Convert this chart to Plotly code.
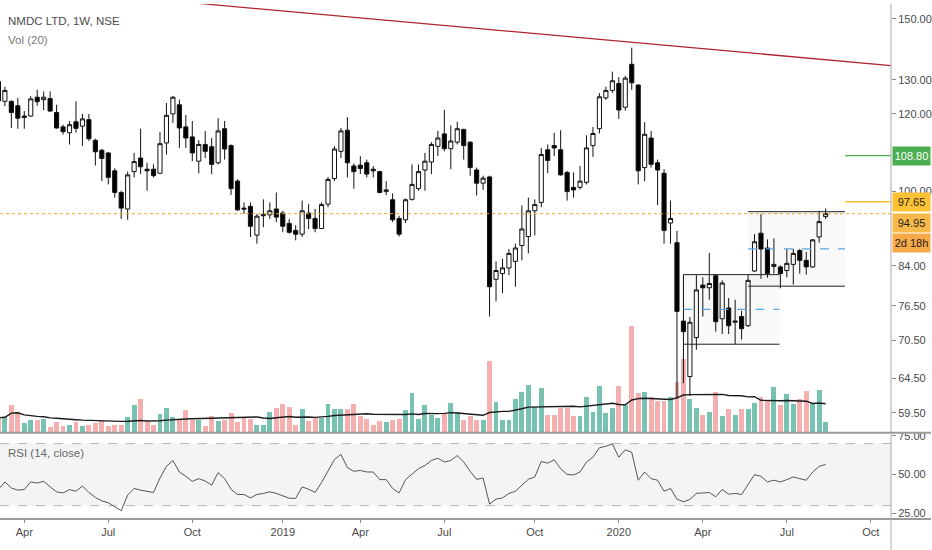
import numpy as np
import pandas as pd
import plotly.graph_objects as go

# ---------------- data (weekly candles, NMDC LTD, NSE) ----------------
dates = pd.date_range("2018-03-05", periods=129, freq="7D")

opens = [129.5, 123.6, 123.6, 122.3, 119.0, 119.4, 124.8, 124.1, 124.4, 120.4,
         116.4, 114.8, 117.8, 116.6, 118.4, 112.8, 110.2, 109.5, 105.0, 99.8,
         96.0, 104.8, 108.2, 105.4, 105.4, 104.4, 112.1, 120.0, 122.6, 116.4,
         113.7, 107.4, 111.7, 111.1, 107.0, 115.9, 111.4, 102.5, 96.2, 96.6,
         90.3, 94.5, 94.7, 96.0, 95.1, 92.8, 91.3, 90.5, 95.1, 93.9,
         91.7, 97.1, 103.1, 109.9, 115.5, 106.2, 106.4, 107.0, 105.4, 104.8,
         100.0, 98.1, 93.9, 93.6, 98.2, 100.7, 105.2, 107.2, 111.2, 114.5,
         110.6, 112.3, 115.7, 112.3, 105.2, 102.0, 103.5, 81.4, 82.5, 83.6,
         84.9, 88.1, 90.0, 95.6, 97.5, 110.3, 111.4, 110.3, 104.6, 101.0,
         101.0, 102.2, 111.4, 115.9, 124.6, 126.8, 128.9, 121.9, 134.8, 128.4,
         105.8, 113.4, 107.0, 104.4, 92.9, 88.7, 73.8, 64.8, 71.0, 80.3,
         79.8, 82.1, 74.2, 76.1, 73.6, 74.6, 73.0, 83.0, 90.7, 87.6,
         83.9, 83.8, 83.1, 84.3, 87.1, 85.1, 83.8, 89.9, 94.3]
highs = [130.5, 127.9, 123.8, 124.6, 120.8, 125.1, 127.0, 126.5, 126.5, 122.6,
         117.0, 118.0, 123.6, 120.0, 120.0, 113.2, 110.5, 109.7, 105.6, 100.2,
         104.8, 109.5, 115.9, 107.0, 106.6, 115.0, 123.1, 125.1, 124.1, 119.7,
         118.0, 112.8, 115.3, 113.4, 118.8, 118.0, 111.7, 102.9, 97.5, 97.5,
         94.9, 98.2, 97.5, 99.8, 95.6, 93.8, 92.4, 97.9, 97.1, 96.0,
         97.5, 103.5, 111.2, 116.1, 119.1, 106.8, 108.7, 107.8, 106.2, 105.0,
         102.5, 99.6, 94.5, 98.4, 106.6, 106.6, 109.5, 112.3, 115.3, 121.1,
         116.8, 117.8, 115.9, 112.5, 105.8, 103.8, 103.8, 84.9, 85.4, 87.4,
         88.5, 96.8, 98.6, 98.2, 110.8, 111.7, 114.8, 115.5, 105.0, 104.6,
         106.2, 114.1, 116.4, 126.0, 127.9, 132.5, 130.8, 131.2, 140.2, 128.6,
         117.7, 115.3, 107.8, 105.4, 97.9, 91.2, 82.3, 74.5, 82.2, 81.8,
         86.6, 82.2, 81.2, 77.9, 77.6, 75.6, 82.2, 90.5, 94.9, 89.4,
         89.6, 84.1, 87.4, 87.4, 87.4, 86.8, 89.4, 95.6, 96.1]
lows = [122.2, 122.2, 116.1, 115.9, 115.9, 119.2, 122.3, 121.1, 120.6, 115.9,
        114.3, 111.7, 114.8, 111.3, 112.6, 106.3, 102.5, 101.7, 98.6, 93.8,
        93.6, 103.4, 104.2, 100.2, 103.4, 104.2, 109.1, 117.5, 110.8, 110.8,
        107.4, 104.4, 108.2, 104.2, 106.6, 107.8, 99.2, 95.6, 94.9, 89.9,
        88.5, 92.0, 93.8, 93.1, 90.9, 90.6, 89.2, 89.9, 91.6, 90.9,
        91.6, 96.4, 102.5, 108.2, 103.4, 100.7, 104.2, 103.4, 103.4, 99.6,
        99.2, 93.1, 90.0, 92.9, 97.9, 100.2, 100.2, 104.2, 108.7, 109.9,
        105.4, 111.7, 107.8, 103.8, 99.1, 100.4, 74.6, 77.3, 78.8, 82.2,
        80.0, 85.1, 86.5, 90.2, 96.4, 104.4, 108.7, 103.8, 97.9, 98.6,
        100.5, 101.7, 108.5, 114.6, 124.0, 126.0, 118.6, 120.9, 127.0, 101.7,
        102.5, 105.8, 96.9, 88.5, 88.5, 61.5, 63.8, 61.9, 69.0, 74.6,
        77.6, 72.0, 71.6, 71.6, 69.9, 70.7, 72.8, 82.8, 81.5, 81.7,
        82.5, 79.7, 81.8, 80.4, 82.5, 82.3, 83.6, 88.7, 93.8]
closes = [123.7, 126.8, 120.4, 118.8, 119.4, 124.3, 123.5, 124.8, 120.8, 116.1,
          115.1, 117.0, 116.0, 118.6, 113.2, 109.8, 108.1, 103.4, 99.8, 96.2,
          104.0, 107.3, 106.0, 105.0, 103.8, 111.9, 119.6, 124.8, 116.1, 113.4,
          109.5, 111.7, 109.9, 106.6, 115.3, 110.5, 100.7, 95.8, 96.0, 92.2,
          94.4, 94.7, 95.6, 94.2, 92.2, 90.9, 90.5, 95.6, 93.9, 91.7,
          97.0, 102.9, 110.5, 115.3, 107.0, 104.8, 105.6, 104.2, 105.0, 99.8,
          100.4, 93.6, 90.5, 98.1, 101.7, 104.8, 107.4, 111.7, 113.4, 110.6,
          112.6, 115.9, 111.4, 105.8, 102.0, 103.2, 80.0, 83.1, 83.6, 86.5,
          87.6, 91.6, 95.6, 97.0, 109.1, 107.6, 110.8, 104.0, 100.0, 100.4,
          102.5, 110.8, 114.6, 124.9, 126.8, 129.7, 121.1, 130.5, 129.1, 105.0,
          114.4, 106.6, 105.2, 91.3, 93.9, 75.5, 72.0, 73.6, 79.4, 79.8,
          80.6, 73.7, 80.7, 73.0, 73.8, 72.5, 81.2, 88.9, 87.4, 82.5,
          84.3, 82.5, 84.5, 86.5, 85.1, 83.8, 89.3, 93.2, 94.95]
volume_m = [15, 16, 28, 21.3, 9.3, 12.7, 12.7, 13.7, 5.3, 11,
            7, 8, 10.3, 6.3, 8, 9.3, 12, 6.3, 8, 8,
            16, 28, 33.7, 10.3, 7.7, 19.3, 24.7, 16, 12.7, 22.7,
            12.7, 12.7, 6.3, 17, 12, 12.7, 20.3, 10.3, 16, 13.7,
            8, 8, 21.3, 25.3, 28.7, 26, 8, 23.7, 12, 14.7,
            14.7, 29.3, 23.7, 23.7, 23.7, 29.3, 17, 13.7, 8, 11.3,
            10.3, 13, 13.7, 22.7, 40.3, 13.7, 28, 18, 14.7, 19.3,
            30.3, 21.3, 12.7, 17, 12.7, 12.7, 72.7, 31.3, 12.7, 12.7,
            33.7, 41.3, 47.7, 26, 45.3, 18, 18, 25.3, 25, 16.5,
            17, 36.3, 21.3, 47, 20.3, 24.7, 47, 28, 107.3, 39.7,
            40.7, 36.3, 32, 32, 35.7, 51.3, 74.7, 33.7, 24.7, 18,
            21.3, 40.7, 17, 23.7, 18, 23.7, 23.7, 29.7, 35.7, 32.3,
            46.3, 28, 38.7, 29, 34, 42, 29, 42.7, 10.7]
rsi14 = [40.5, 45.3, 41.4, 40.0, 40.4, 45.3, 44.6, 45.7, 42.1, 38.9,
         38.2, 40.4, 39.3, 42.7, 38.5, 35.3, 33.1, 31.9, 29.3, 26.7,
         36.8, 41.1, 40.0, 39.3, 38.5, 47.8, 55.3, 59.1, 51.7, 48.9,
         45.7, 47.4, 45.9, 43.2, 51.3, 47.4, 40.6, 37.2, 37.2, 35.0,
         37.2, 37.9, 38.9, 37.9, 36.1, 34.8, 34.7, 42.1, 40.6, 38.5,
         44.9, 52.7, 59.8, 63.0, 54.5, 52.1, 52.7, 51.7, 51.7, 46.8,
         46.8, 41.1, 38.2, 46.8, 50.6, 53.8, 55.9, 59.1, 60.6, 58.1,
         59.1, 62.3, 58.1, 52.1, 47.0, 47.8, 31.0, 34.2, 35.0, 37.9,
         39.3, 43.2, 47.0, 48.5, 58.5, 57.4, 59.6, 53.8, 50.1, 49.8,
         51.7, 58.1, 61.2, 67.3, 68.3, 69.8, 61.2, 66.0, 64.4, 46.4,
         51.7, 47.4, 46.4, 39.3, 41.1, 34.2, 32.5, 34.0, 37.9, 38.2,
         38.5, 35.7, 40.4, 37.4, 37.9, 37.2, 43.6, 50.0, 48.9, 45.3,
         46.4, 45.3, 46.8, 48.5, 47.4, 46.4, 51.7, 55.3, 56.6]

price_ticks = [59.5, 64.5, 70.5, 76.5, 84.0, 100.0, 120.0, 130.0, 150.0]
rsi_ticks = [25, 50, 75]
rsi_bands = [30, 70]
month_ticks = ["2018-04-02", "2018-07-02", "2018-10-01", "2019-01-07", "2019-04-01",
               "2019-07-01", "2019-10-07", "2020-01-06", "2020-04-06", "2020-07-06",
               "2020-10-05"]
month_labels = ["Apr", "Jul", "Oct", "2019", "Apr", "Jul", "Oct", "2020", "Apr", "Jul", "Oct"]

x_view = ["2018-03-06 17:00", "2020-10-26 20:00"]
price_view = [56.8, 155.3]
vol_view = [0, 432]
rsi_view = [21.4, 76.4]

# drawings
trend_x = ["2018-10-08", "2020-10-26 20:00"]
trend_y = [155.5, 134.4]
level_green = 108.80
level_yellow = 97.65
level_x = ["2020-09-07", "2020-10-26 20:00"]
chan1_x = ["2020-03-16", "2020-06-28"]
chan1_top, chan1_bot = 82.3, 69.9
chan2_x = ["2020-05-25", "2020-09-07"]
chan2_top, chan2_bot = 95.4, 80.1

# ---------------- figure ----------------
FONT = "Liberation Sans, Arial, sans-serif"
H_PLOT = 520.0
price_dom = [(H_PLOT - 432) / H_PLOT, 1.0]
rsi_dom = [1 / H_PLOT, 87 / H_PLOT]

up = [c >= o for o, c in zip(opens, closes)]
vol_colors = ["#78c2b1" if u else "#f4afae" for u in up]
vol_ma = pd.Series(volume_m).rolling(20, min_periods=1).mean()

fig = go.Figure()

fig.add_trace(go.Bar(x=dates, y=volume_m, marker=dict(color=vol_colors, line=dict(width=0)),
                     width=5.3 * 86400000, yaxis="y", hoverinfo="skip"))
fig.add_trace(go.Scatter(x=dates, y=vol_ma, mode="lines", line=dict(color="#1b1b1b", width=1.4),
                         yaxis="y", hoverinfo="skip"))

# channels (fill + lines)
for cx, ct, cb in [(chan1_x, chan1_top, chan1_bot), (chan2_x, chan2_top, chan2_bot)]:
    fig.add_trace(go.Scatter(x=[cx[0], cx[1], cx[1], cx[0], cx[0]], y=[ct, ct, cb, cb, ct],
                             mode="lines", fill="toself", fillcolor="rgba(0,0,0,0.022)",
                             line=dict(width=0), yaxis="y2", hoverinfo="skip"))
    fig.add_trace(go.Scatter(x=cx, y=[ct, ct], mode="lines", line=dict(color="#222222", width=1),
                             yaxis="y2", hoverinfo="skip"))
    fig.add_trace(go.Scatter(x=cx, y=[cb, cb], mode="lines", line=dict(color="#222222", width=1),
                             yaxis="y2", hoverinfo="skip"))
    mid = float(np.sqrt(ct * cb))
    fig.add_trace(go.Scatter(x=cx, y=[mid, mid], mode="lines",
                             line=dict(color="#5aa7e6", width=1.3, dash="dash"),
                             yaxis="y2", hoverinfo="skip"))

fig.add_trace(go.Candlestick(
    x=dates, open=opens, high=highs, low=lows, close=closes, yaxis="y2",
    increasing=dict(line=dict(color="#111111", width=1), fillcolor="#ffffff"),
    decreasing=dict(line=dict(color="#111111", width=1), fillcolor="#000000"),
    whiskerwidth=0, hoverinfo="skip"))

# last price dotted line
fig.add_trace(go.Scatter(x=x_view, y=[closes[-1], closes[-1]], mode="lines",
                         line=dict(color="#f5a623", width=1, dash="dot"), yaxis="y2", hoverinfo="skip"))
# trend line
fig.add_trace(go.Scatter(x=trend_x, y=trend_y, mode="lines", line=dict(color="#b0242e", width=1.3),
                         yaxis="y2", hoverinfo="skip"))
# horizontal levels
fig.add_trace(go.Scatter(x=level_x, y=[level_green] * 2, mode="lines", line=dict(color="#4caf50", width=1.3),
                         yaxis="y2", hoverinfo="skip"))
fig.add_trace(go.Scatter(x=level_x, y=[level_yellow] * 2, mode="lines", line=dict(color="#f9c02f", width=1.3),
                         yaxis="y2", hoverinfo="skip"))

# RSI
fig.add_trace(go.Scatter(x=dates, y=rsi14, mode="lines", line=dict(color="#555555", width=1),
                         yaxis="y3", hoverinfo="skip"))

axis_font = dict(family=FONT, size=11, color="#4a4a4a")

fig.update_layout(
    width=932, height=550,
    margin=dict(l=0, r=40, t=0, b=30),
    paper_bgcolor="#ffffff", plot_bgcolor="#ffffff",
    showlegend=False, hovermode=False,
    boxgap=0.2, boxgroupgap=0.2,
    bargap=0,
    xaxis=dict(type="date", range=x_view, anchor="y3", tickmode="array",
               tickvals=month_ticks, ticktext=month_labels, ticks="outside", ticklen=3,
               tickcolor="#8a8a8a", showgrid=False, zeroline=False, showline=False,
               rangeslider=dict(visible=False), tickfont=axis_font),
    yaxis=dict(domain=price_dom, range=vol_view, visible=False, fixedrange=True),
    yaxis2=dict(overlaying="y", side="right", type="log",
                range=[np.log10(price_view[0]), np.log10(price_view[1])],
                tickmode="array", tickvals=price_ticks, ticktext=[f"{v:.2f}" for v in price_ticks],
                ticks="outside", ticklen=4, tickcolor="#8a8a8a", showgrid=False, zeroline=False,
                showline=False, tickfont=axis_font, anchor="x"),
    yaxis3=dict(domain=rsi_dom, range=rsi_view, side="right", tickmode="array",
                tickvals=rsi_ticks, ticktext=[f"{v:.2f}" for v in rsi_ticks],
                ticks="outside", ticklen=4, tickcolor="#8a8a8a", showgrid=False, zeroline=False,
                showline=False, tickfont=axis_font, anchor="x"),
)

# RSI band and dashed guides
fig.add_shape(type="rect", xref="paper", yref="y3", x0=0, x1=1, y0=rsi_bands[0], y1=rsi_bands[1],
              fillcolor="#f4f4f5", line=dict(width=0), layer="below")
for lvl in rsi_bands:
    fig.add_shape(type="line", xref="paper", yref="y3", x0=0, x1=1, y0=lvl, y1=lvl,
                  line=dict(color="#b4b4b4", width=1, dash="dash"), layer="below")

# pane separators and right axis border
ext = 932 / 892
for py in [432, 519]:
    fig.add_shape(type="line", xref="paper", yref="paper", x0=0, x1=ext,
                  y0=1 - py / H_PLOT, y1=1 - py / H_PLOT, line=dict(color="#9a9a9a", width=2))
fig.add_shape(type="line", xref="paper", yref="paper", x0=1, x1=1, y0=-30 / H_PLOT, y1=1,
              line=dict(color="#a8a8a8", width=1))

# legend-like labels
def ptxt(text, py, color, size=12):
    fig.add_annotation(text=text, xref="paper", yref="paper", x=6 / 892, y=1 - py / H_PLOT,
                       xanchor="left", yanchor="middle", showarrow=False,
                       font=dict(family=FONT, size=size, color=color))

ptxt("NMDC LTD, 1W, NSE", 17, "#4d4d4d", 11.5)
ptxt("Vol (20)", 36, "#777777", 11.5)
ptxt("RSI (14, close)", 452, "#666666", 11.5)

# right-axis badges
def badge(text, price, bg, fg, yshift=0):
    fig.add_annotation(text=text, xref="paper", yref="y2", x=1, y=float(np.log10(price)),
                       xanchor="left", yanchor="middle", xshift=1, yshift=yshift, showarrow=False,
                       bgcolor=bg, width=35, height=16, align="center",
                       font=dict(family=FONT, size=11, color=fg))

badge(f"{level_green:.2f}", level_green, "#4caf50", "#ffffff")
badge(f"{level_yellow:.2f}", level_yellow, "#fcc233", "#1e1e1e")
badge(f"{closes[-1]:.2f}", closes[-1], "#f9b949", "#1e1e1e", yshift=-9)
badge("2d 18h", closes[-1], "#f7a948", "#1e1e1e", yshift=-29)

fig.write_html("out.html", config={"displayModeBar": False},
               post_script="document.body.style.margin='0px';document.body.style.overflow='hidden';")
